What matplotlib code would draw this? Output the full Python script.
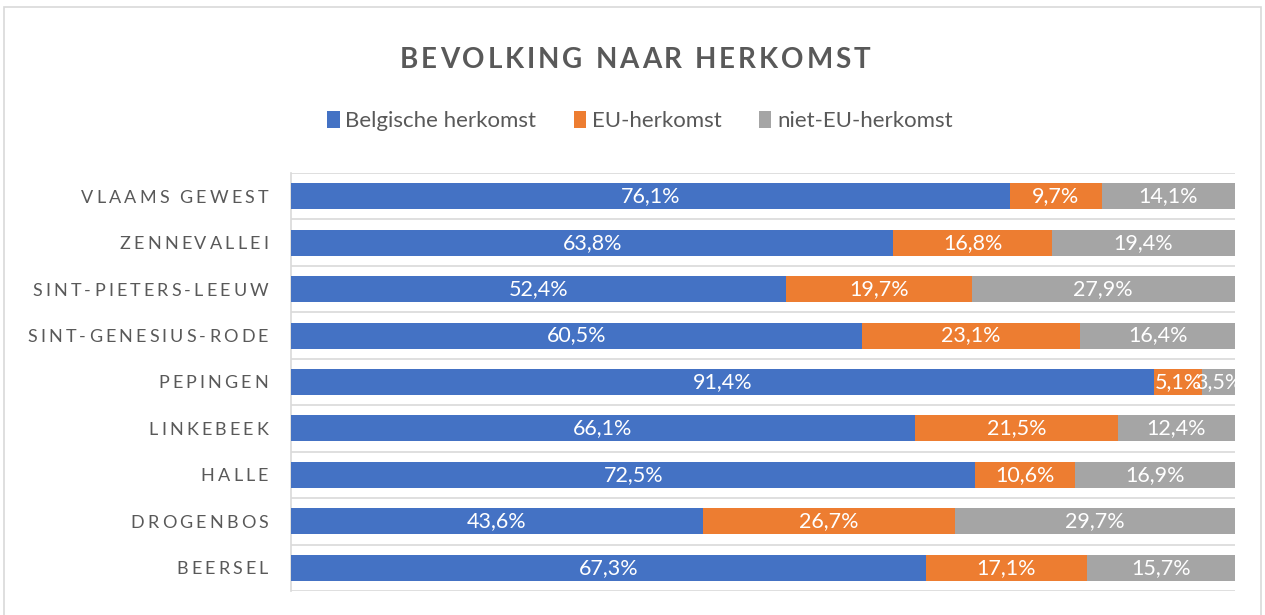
import numpy as np
import matplotlib
matplotlib.use('Agg')
import matplotlib.pyplot as plt
from matplotlib.patches import Patch, Rectangle
from matplotlib.font_manager import FontProperties
from matplotlib.transforms import IdentityTransform

# Data (percentages, top to bottom as shown)
categories = ['VLAAMS GEWEST', 'ZENNEVALLEI', 'SINT-PIETERS-LEEUW', 'SINT-GENESIUS-RODE',
              'PEPINGEN', 'LINKEBEEK', 'HALLE', 'DROGENBOS', 'BEERSEL']
belgisch = [76.1, 63.8, 52.4, 60.5, 91.4, 66.1, 72.5, 43.6, 67.3]
eu = [9.7, 16.8, 19.7, 23.1, 5.1, 21.5, 10.6, 26.7, 17.1]
niet_eu = [14.1, 19.4, 27.9, 16.4, 3.5, 12.4, 16.9, 29.7, 15.7]
series_names = ['Belgische herkomst', 'EU-herkomst', 'niet-EU-herkomst']
colors = ['#4472C4', '#ED7D31', '#A5A5A5']
title = 'BEVOLKING NAAR HERKOMST'

FONT = 'Lato'
TXT = '#595959'
plt.rcParams['font.family'] = [FONT, 'DejaVu Sans']

W, H = 1265, 615
fig = plt.figure(figsize=(W / 100, H / 100), dpi=100)
renderer = fig.canvas.get_renderer()

# outer chart frame
fig.patches.append(Rectangle((4, -20), 1257, 628, transform=IdentityTransform(),
                             fill=False, edgecolor='#D9D9D9', linewidth=1.2))

ax = fig.add_axes([291 / W, 1 - 591 / H, (1235 - 291) / W, (591 - 173) / H])

data = np.array([belgisch, eu, niet_eu])
shares = data / data.sum(axis=0) * 100
y = np.arange(len(categories))

left = np.zeros(len(categories))
for vals, raw, col in zip(shares, data, colors):
    ax.barh(y, vals, left=left, height=0.56, color=col, zorder=3)
    for yi, l, v, r in zip(y, left, vals, raw):
        ax.text(l + v / 2, yi, f'{r:.1f}%'.replace('.', ','), ha='center', va='center',
                color='white', fontsize=15.5, zorder=4)
    left += vals

ax.set_xlim(0, 100)
ax.set_ylim(len(categories) - 0.5, -0.5)
ax.set_xticks([])
ax.set_yticks([])
for yb in np.arange(-0.5, len(categories), 1):
    ax.axhline(yb, color='#D9D9D9', linewidth=1.2, zorder=1)
for s in ['top', 'right', 'bottom']:
    ax.spines[s].set_visible(False)
ax.spines['left'].set_color('#D9D9D9')
ax.spines['left'].set_linewidth(1.2)


def spaced_text(x_px, y_px, s, spacing, ha, prop, color):
    """Draw text with extra letter spacing; y_px is the vertical centre of caps."""
    widths = [renderer.get_text_width_height_descent(c, prop, ismath=False)[0] for c in s]
    _, hh, dd = renderer.get_text_width_height_descent('H', prop, ismath=False)
    cap = hh - dd
    total = sum(widths) + spacing * (len(s) - 1)
    if ha == 'right':
        x = x_px - total
    elif ha == 'center':
        x = x_px - total / 2
    else:
        x = x_px
    base = y_px - cap / 2
    for c, w in zip(s, widths):
        fig.text(x, base, c, fontproperties=prop, color=color, ha='left', va='baseline',
                 transform=IdentityTransform())
        x += w + spacing


lab_prop = FontProperties(family=FONT, size=13)
for yi, cat in zip(y, categories):
    ypx = ax.transData.transform((0, yi))[1]
    spaced_text(268, ypx, cat, 3.1, 'right', lab_prop, TXT)

title_prop = FontProperties(family=FONT, size=20, weight='bold')
spaced_text(635, H - 57, title, 3.0, 'center', title_prop, TXT)

handles = [Patch(facecolor=c, edgecolor='none') for c in colors]
fig.legend(handles, series_names, loc='center', bbox_to_anchor=(640 / W, 1 - 121 / H),
           ncol=3, frameon=False, fontsize=16, handlelength=0.55, handleheight=0.8,
           handletextpad=0.25, columnspacing=1.7, labelcolor=TXT)

fig.savefig('out.png', dpi=100)
